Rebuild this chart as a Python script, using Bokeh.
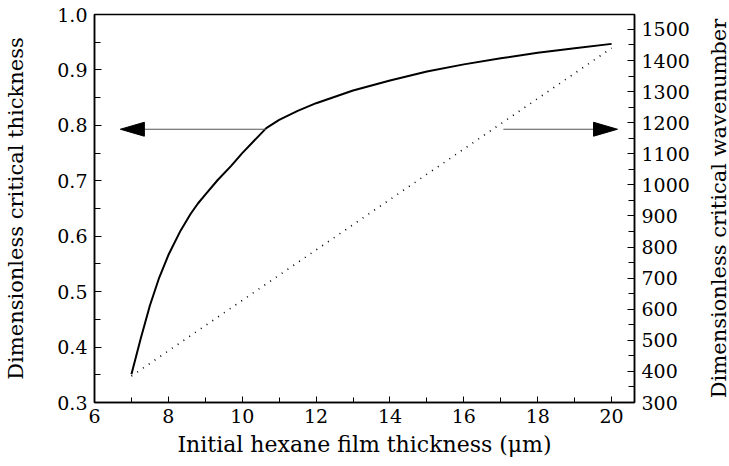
import math
from bokeh.plotting import figure
from bokeh.layouts import row
from bokeh.models import Range1d, LinearAxis, SingleIntervalTicker, PrintfTickFormatter
from bokeh.embed import file_html
from bokeh.resources import INLINE

# Data
film_thickness = [7.0, 7.25, 7.5, 7.75, 8.0, 8.33, 8.6, 8.8, 9.0, 9.33, 9.7, 10.0,
                  10.65, 11.0, 11.5, 12.0, 13.0, 14.0, 15.0, 16.0, 17.0, 18.0, 19.0, 20.0]
critical_thickness = [0.351, 0.415, 0.475, 0.525, 0.566, 0.610, 0.640, 0.659, 0.675, 0.701, 0.727, 0.750,
                      0.795, 0.810, 0.826, 0.840, 0.863, 0.881, 0.897, 0.910, 0.921, 0.931, 0.939, 0.947]
wn_thickness = [7.0, 20.0]
critical_wavenumber = [385, 1440]

x_label = "Initial hexane film thickness (μm)"
left_label = "Dimensionless critical thickness"
right_label = "Dimensionless critical wavenumber"

# arrows (left-axis units for y)
arrow_y = 0.793
left_arrow_x = [10.65, 6.7]   # start, tip
right_arrow_x = [17.07, 20.16]
head_len = 0.65
head_half = 0.0126

FONT = "DejaVu Serif"

p = figure(width=700, height=466, x_range=Range1d(6, 20.62), y_range=Range1d(0.3, 1.0),
           output_backend="svg", toolbar_location=None,
           min_border_left=94, min_border_right=66, min_border_top=14, min_border_bottom=64)
p.extra_y_ranges = {"wn": Range1d(300, 1548)}
p.xgrid.visible = False
p.ygrid.visible = False
p.outline_line_color = "black"
p.outline_line_width = 1.5
p.background_fill_color = "white"
p.border_fill_color = "white"

def style(ax):
    ax.axis_line_color = "black"
    ax.axis_line_width = 1.5
    ax.major_tick_in = 7
    ax.major_tick_out = 0
    ax.minor_tick_in = 6
    ax.minor_tick_out = 0
    ax.major_tick_line_color = "black"
    ax.minor_tick_line_color = "black"
    ax.major_label_text_font = FONT
    ax.major_label_text_font_size = "19px"
    ax.major_label_text_color = "black"
    ax.axis_label_text_font = FONT
    ax.axis_label_text_font_size = "21px"
    ax.axis_label_text_font_style = "normal"
    ax.axis_label_text_color = "black"

xa = p.below[0]
style(xa)
xa.ticker = SingleIntervalTicker(interval=2, num_minor_ticks=2)
xa.axis_label = x_label
xa.axis_label_text_font_size = "22px"
xa.major_label_standoff = 6
xa.axis_label_standoff = 6
xa.major_tick_in = 6
xa.minor_tick_in = 5

ya = p.left[0]
style(ya)
ya.ticker = SingleIntervalTicker(interval=0.1, num_minor_ticks=2)
ya.formatter = PrintfTickFormatter(format="%.1f")
ya.axis_label = left_label
ya.major_label_standoff = 7
ya.axis_label_standoff = 26

ra = LinearAxis(y_range_name="wn")
style(ra)
ra.ticker = SingleIntervalTicker(interval=100, num_minor_ticks=2)
ra.major_label_standoff = 7
p.add_layout(ra, "right")

p.line(film_thickness, critical_thickness, line_color="black", line_width=2)
p.line(wn_thickness, critical_wavenumber, y_range_name="wn", line_color="black",
       line_width=1.6, line_dash="1 6")

# arrows
for xs in (left_arrow_x, right_arrow_x):
    start, tip = xs
    d = 1 if tip > start else -1
    base = tip - d * head_len
    p.line([start, base], [arrow_y, arrow_y], line_color="#555555", line_width=1.2)
    p.patch([tip, base, base], [arrow_y, arrow_y + head_half, arrow_y - head_half],
            fill_color="black", line_color="black", line_width=1)

# thin strip on the right carrying the right-axis title, reading bottom to top
p2 = figure(width=29, height=466, x_range=Range1d(0, 1), y_range=Range1d(0, 1),
            output_backend="svg", toolbar_location=None, x_axis_type=None, y_axis_type=None,
            min_border=0)
p2.xgrid.visible = False
p2.ygrid.visible = False
p2.outline_line_color = None
p2.background_fill_color = "white"
p2.border_fill_color = "white"
p2.text(x=[0.655], y=[0.5], text=[right_label], angle=math.pi / 2,
        text_align="center", text_baseline="alphabetic",
        text_font={"value": FONT}, text_font_size={"value": "21px"}, text_color="black")

layout = row(p, p2, spacing=0)
open("out.html", "w").write(file_html(layout, INLINE))
